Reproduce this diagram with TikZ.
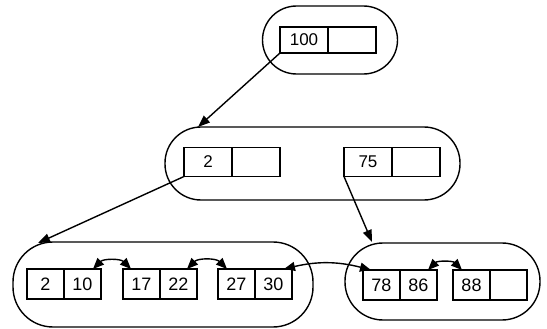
\documentclass[tikz,border=0pt]{standalone}
\usepackage{fontspec}
\setmainfont{Liberation Sans}
\usetikzlibrary{positioning,arrows.meta}

\tikzset{
    celda/.style={draw, line width=1.4pt, minimum width=48pt, minimum height=26pt,
        inner sep=0pt, outer sep=0pt, font=\fontsize{17}{19}\selectfont},
    hoja/.style={celda, minimum width=37pt, minimum height=30pt, font=\fontsize{18}{20}\selectfont},
    nodo/.style={draw, line width=1.4pt, inner sep=0pt},
    flecha/.style={line width=1.4pt, -{Triangle[length=12pt,width=9pt]}},
    enlace/.style={line width=1.4pt, {Triangle[length=11pt,width=9pt]}-{Triangle[length=11pt,width=9pt]}}
}

\begin{document}
\begin{tikzpicture}[x=1pt, y=-1pt]
    \useasboundingbox (0,0) rectangle (547,329);

    % Raiz
    \node[nodo, minimum width=135pt, minimum height=68pt, rounded corners=34pt] (raiz) at (330,40) {};
    \node[celda] (r1) at (304,40) {100};
    \node[celda] (r2) at (352,40) {};

    % Nivel intermedio
    \node[nodo, minimum width=295pt, minimum height=73pt, rounded corners=36pt] (med) at (312.5,163.5) {};
    \node[celda, minimum height=29pt] (m1) at (208,162) {2};
    \node[celda, minimum height=29pt] (m2) at (256,162) {};
    \node[celda, minimum height=29pt] (m3) at (368,162) {75};
    \node[celda, minimum height=29pt] (m4) at (416,162) {};

    % Hojas
    \node[nodo, minimum width=300pt, minimum height=85pt, rounded corners=40pt] (izq) at (163,284.5) {};
    \node[hoja] (a1) at (45.5,284) {2};
    \node[hoja] (a2) at (82.5,284) {10};
    \node[hoja] (b1) at (141.5,284) {17};
    \node[hoja] (b2) at (178.5,284) {22};
    \node[hoja] (c1) at (236.5,284) {27};
    \node[hoja] (c2) at (273.5,284) {30};

    \node[nodo, minimum width=195pt, minimum height=77pt, rounded corners=38pt] (der) at (442.5,281.5) {};
    \node[hoja] (d1) at (381.5,285) {78};
    \node[hoja] (d2) at (418.5,285) {86};
    \node[hoja] (e1) at (471.5,285) {88};
    \node[hoja] (e2) at (508.5,285) {};

    % Punteros
    \coordinate (medIn) at (198,127);
    \coordinate (izqIn) at (38,243);
    \coordinate (derIn) at (372,242);
    \draw[flecha] (r1.south west) -- (medIn);
    \draw[flecha] (m1.south west) -- (izqIn);
    \draw[flecha] (m3.south west) -- (derIn);

    % Enlaces entre hojas
    \draw[enlace] ([xshift=-8pt]a2.north east) to[bend left=45] ([xshift=8pt]b1.north west);
    \draw[enlace] ([xshift=-10pt]b2.north east) to[bend left=45] ([xshift=9pt]c1.north west);
    \draw[enlace] ([xshift=-8pt]c2.north east) to[bend left=14] ([xshift=8pt]d1.north west);
    \draw[enlace] ([xshift=-9pt]d2.north east) to[bend left=45] ([xshift=9pt]e1.north west);
\end{tikzpicture}
\end{document}
